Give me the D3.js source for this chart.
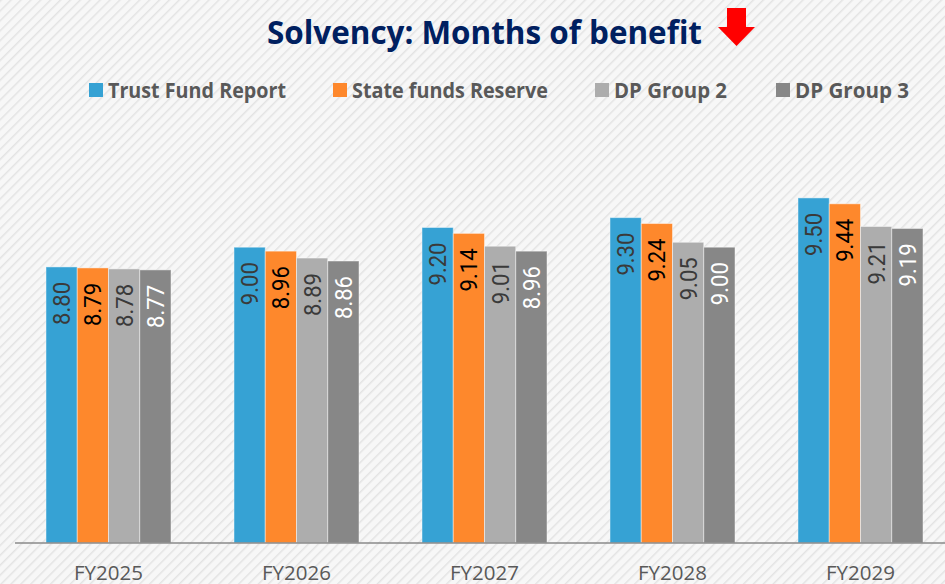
<!DOCTYPE html>
<html>
<head>
<meta charset="utf-8">
<script src="https://cdn.jsdelivr.net/npm/d3@7"></script>
<style>
html,body{margin:0;padding:0;background:#f6f6f6;}
svg{display:block;}
</style>
</head>
<body>
<svg id="chart" width="945" height="584"></svg>
<script>
const categories = ["FY2025","FY2026","FY2027","FY2028","FY2029"];
const seriesNames = ["Trust Fund Report","State funds Reserve","DP Group 2","DP Group 3"];
const trustFund = [8.80, 9.00, 9.20, 9.30, 9.50];
const stateReserve = [8.79, 8.96, 9.14, 9.24, 9.44];
const dpGroup2 = [8.78, 8.89, 9.01, 9.05, 9.21];
const dpGroup3 = [8.77, 8.86, 8.96, 9.00, 9.19];
const seriesValues = [trustFund, stateReserve, dpGroup2, dpGroup3];
const colors = ["#36A2D4","#FE882C","#ADADAD","#878787"];
const labelColors = ["#3a3a3a","#000000","#3a3a3a","#ffffff"];
const titleText = "Solvency: Months of benefit";

const svg = d3.select("#chart");
const W = 945, H = 584;

// hatched background
const defs = svg.append("defs");
const pat = defs.append("pattern").attr("id","hatch").attr("patternUnits","userSpaceOnUse")
  .attr("width",7).attr("height",7).attr("patternTransform","rotate(45)");
pat.append("rect").attr("width",7).attr("height",7).attr("fill","#f7f7f7");
pat.append("line").attr("x1",0).attr("y1",0).attr("x2",0).attr("y2",7)
  .attr("stroke","#e3e3e3").attr("stroke-width",3);
svg.append("rect").attr("width",W).attr("height",H).attr("fill","url(#hatch)");

const x = d3.scaleBand().domain(categories).range([14.5, 954.5]).paddingInner(0.335).paddingOuter(0.1675);
const xs = d3.scaleBand().domain(d3.range(seriesNames.length)).range([0, x.bandwidth()]);
const y = d3.scaleLinear().domain([6, 10]).range([543, 148.6]);

const data = [];
categories.forEach((c, ci) => {
  seriesValues.forEach((vals, si) => data.push({c, si, v: vals[ci]}));
});

const g = svg.append("g");
g.selectAll("rect.bar").data(data).enter().append("rect")
  .attr("class","bar")
  .attr("x", d => x(d.c) + xs(d.si))
  .attr("y", d => y(d.v))
  .attr("width", xs.bandwidth())
  .attr("height", d => y(6) - y(d.v))
  .attr("fill", d => colors[d.si])
  .attr("stroke","rgba(255,255,255,0.45)")
  .attr("stroke-width",1);

// value labels
g.selectAll("text.val").data(data).enter().append("text")
  .attr("class","val")
  .attr("transform", d => `translate(${x(d.c) + xs(d.si) + xs.bandwidth()/2 + 8.5},${y(d.v) + 15}) rotate(-90)`)
  .attr("text-anchor","end")
  .attr("font-family","Roboto, 'Open Sans', sans-serif")
  .attr("font-weight",400)
  .attr("font-size",24)
  .attr("textLength",43)
  .attr("lengthAdjust","spacingAndGlyphs")
  .attr("fill", d => labelColors[d.si])
  .text(d => d.v.toFixed(2));

// axis
const xAxis = d3.axisBottom(x).tickSize(0).tickPadding(0);
const ax = svg.append("g").attr("transform","translate(0,543)").call(xAxis);
ax.select(".domain").attr("stroke","#8a8a8a").attr("stroke-width",1.5).attr("d","M15,0H945");
ax.selectAll(".tick text")
  .attr("font-family","'Open Sans', sans-serif")
  .attr("font-size",20.5)
  .attr("fill","#595959")
  .attr("dy",0)
  .attr("y",36.5);

// title
svg.append("text")
  .attr("x",267).attr("y",44)
  .attr("font-family","'Open Sans', sans-serif")
  .attr("font-weight",700)
  .attr("font-size",33)
  .attr("textLength",435)
  .attr("lengthAdjust","spacingAndGlyphs")
  .attr("fill","#002060")
  .text(titleText);

// red down arrow
svg.append("path")
  .attr("d","M727,8H746V27H755L736.5,46L718,27H727Z")
  .attr("fill","#FF0000");

// legend
const legendX = [89, 333, 595, 776];
const legendW = [178, 196, 113, 114];
const lg = svg.append("g").selectAll("g").data(seriesNames).enter().append("g")
  .attr("transform",(d,i)=>`translate(${legendX[i]},83)`);
lg.append("rect").attr("width",14).attr("height",14).attr("fill",(d,i)=>colors[i]);
lg.append("text")
  .attr("x",19).attr("y",15)
  .attr("font-family","'Open Sans', sans-serif")
  .attr("font-weight",700)
  .attr("font-size",21)
  .attr("textLength",(d,i)=>legendW[i])
  .attr("lengthAdjust","spacingAndGlyphs")
  .attr("fill","#595959")
  .text(d=>d);
</script>
</body>
</html>
